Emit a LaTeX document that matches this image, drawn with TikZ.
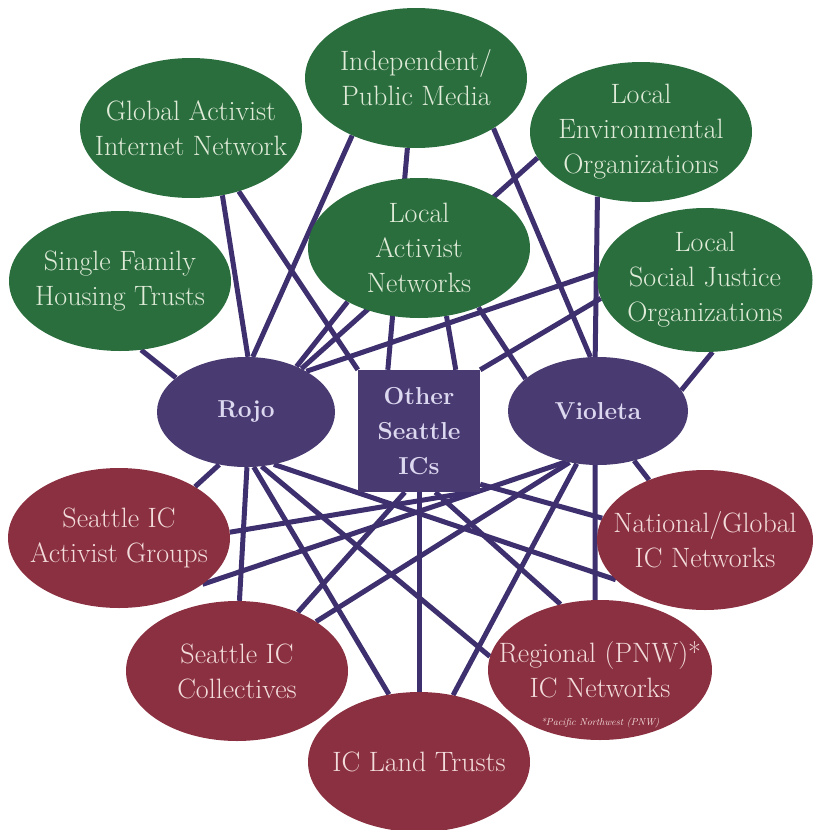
\documentclass[tikz,border=0pt]{standalone}
\usepackage{fontspec}
\usetikzlibrary{shapes.geometric,backgrounds}
\definecolor{leaf}{HTML}{2A6E3E}
\definecolor{plum}{HTML}{4A3A72}
\definecolor{wine}{HTML}{8B3040}
\definecolor{wire}{HTML}{3E2F6E}
\definecolor{leaftext}{HTML}{E0EBD8}
\definecolor{plumtext}{HTML}{DCD8F0}
\definecolor{winetext}{HTML}{F2DCDC}

\begin{document}
\begin{tikzpicture}[x=1pt,y=-1pt,
  blob/.style={ellipse,inner sep=-50pt,minimum width=222pt,minimum height=140pt,
    align=center,font=\fontsize{28}{35}\selectfont},
  grp/.style={blob,fill=leaf,text=leaftext},
  net/.style={blob,fill=wine,text=winetext},
  hub/.style={fill=plum,text=plumtext,inner sep=0pt,align=center,
    font=\fontsize{24.5}{35}\selectfont\bfseries},
  tie/.style={draw=wire,line width=5pt}]
\useasboundingbox (0,0) rectangle (814,830);

% outside groups
\node[grp] (ipm) at (416,78) {Independent/\\Public Media};
\node[grp] (gain) at (191,128) {Global Activist\\Internet Network};
\node[grp] (sfht) at (120,281) {Single Family\\Housing Trusts};
\node[grp] (lan) at (419,248) {Local\\Activist\\Networks};
\node[grp] (leo) at (641,132) {Local\\Environmental\\Organizations};
\node[grp,minimum width=215pt,minimum height=144pt] (lsjo) at (705,280) {Local\\Social Justice\\Organizations};

% the communities
\node[hub,ellipse,minimum width=178pt,minimum height=110pt] (rojo) at (246,412) {Rojo};
\node[hub,rectangle,minimum size=122pt] (others) at (419,431) {Other\\Seattle\\ICs};
\node[hub,ellipse,minimum width=180pt,minimum height=108pt] (violeta) at (598,411) {Violeta};

% IC networks
\node[net] (sicag) at (119,538) {Seattle IC\\Activist Groups};
\node[net] (sicc) at (237,671) {Seattle IC\\Collectives};
\node[net] (iclt) at (419,762) {IC Land Trusts};
\node[net,minimum width=216pt] (ngic) at (705,540) {National/Global\\IC Networks};
\node[net,minimum width=224pt] (rpnw) at (600,670) {Regional (PNW)*\\IC Networks};
\node[inner sep=0pt,text=winetext,font=\fontsize{10}{12}\selectfont\itshape] (pnwnote) at (600,723) {*Pacific Northwest (PNW)};

\begin{scope}[on background layer,every path/.style={tie}]
\draw (sfht.287) -- (rojo.154);
\draw (gain.295) -- (rojo.88);
\draw (gain.307) -- (others.north west);
\draw (ipm.222) -- (rojo.83);
\draw (ipm.263) -- (others.117);
\draw (ipm.327) -- (violeta.98);
\draw (lan.217) -- (rojo.42);
\draw (lan.292) -- (others.59);
\draw (lan.315) -- (violeta.156);
\draw (leo.194) -- (rojo.38);
\draw (leo.236) -- (violeta.93);
\draw (lsjo.176) -- (rojo.34);
\draw (lsjo.190) -- (others.north east);
\draw (lsjo.276) -- (violeta.14);

\draw (rojo.243) -- (sicag.34);
\draw (rojo.271) -- (sicc.88);
\draw (rojo.278) -- (iclt.114);
\draw (rojo.286) -- (rpnw.173);
\draw (rojo.298) -- (ngic.204);
\draw (others.310) -- (sicag.3);
\draw (others.257) -- (sicc.44);
\draw (others.south) -- (iclt.north);
\draw (others.285) -- (rpnw.121);
\draw (others.319) -- (ngic.168);
\draw (violeta.238) -- (sicag.331);
\draw (violeta.241) -- (sicc.32);
\draw (violeta.248) -- (iclt.63);
\draw (violeta.267) -- (rpnw.94);
\draw (violeta.306) -- (ngic.133);
\end{scope}
\end{tikzpicture}
\end{document}
